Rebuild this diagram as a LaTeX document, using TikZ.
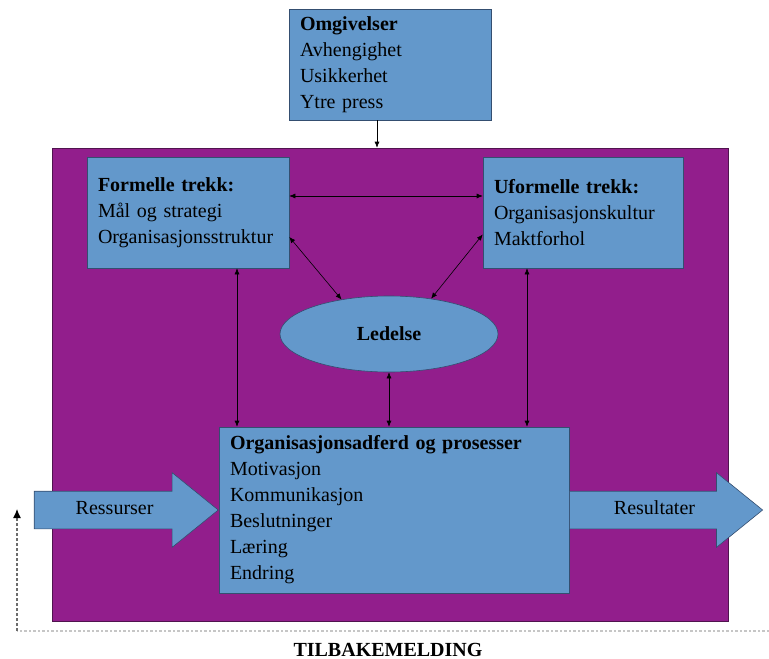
\documentclass[tikz,border=0pt]{standalone}
\usepackage{fontspec}
\setmainfont{Liberation Serif}
\usetikzlibrary{arrows.meta,shapes.geometric,shapes.arrows}
\definecolor{boxblue}{RGB}{99,152,203}
\definecolor{boxline}{RGB}{52,78,112}
\definecolor{orgpurple}{RGB}{146,30,140}
\definecolor{orgline}{RGB}{80,20,78}
\newcommand{\hd}[1]{\textbf{#1}}

\begin{document}
\begin{tikzpicture}[x=1pt,y=-1pt,
  txt/.style={font=\fontsize{20}{26}\selectfont},
  box/.style={txt, draw=boxline, fill=boxblue, line width=0.6pt, align=left, inner xsep=11pt, inner ysep=0pt, minimum height=111pt},
  bigarrow/.style={txt, single arrow, draw=boxline, fill=boxblue, line width=0.6pt, single arrow head extend=18.5pt, single arrow tip angle=78, single arrow head indent=0pt, text height=12pt, text depth=4pt, inner ysep=10.5pt, inner xsep=0pt},
  dbl/.style={{Latex[length=6pt,width=5pt]}-{Latex[length=6pt,width=5pt]}, line width=0.6pt},
  sgl/.style={-{Latex[length=6pt,width=5pt]}, line width=0.6pt},
  fb/.style={gray!45, dash pattern=on 2.5pt off 2pt, line width=1.2pt},
  fbup/.style={-{Latex[length=9pt,width=8pt,black]}, gray!85!black, dash pattern=on 3pt off 2pt, line width=1.2pt}]
\useasboundingbox (0,0) rectangle (769,659);
\node[draw=orgline, fill=orgpurple, line width=0.6pt, minimum width=676pt, minimum height=473pt, inner sep=0pt] (org) at (390,384.5) {};
\node[box, text width=180pt] (omg) at (390,64.5) {\hd{Omgivelser}\\Avhengighet\\Usikkerhet\\Ytre press};
\node[box, text width=180pt] (form) at (188,212.5) {\hd{Formelle trekk:}\\Mål og strategi\\Organisasjonsstruktur};
\node[box, text width=178pt] (uform) at (583,212.5) {\hd{Uformelle trekk:}\\Organisasjonskultur\\Maktforhol};
\node[txt, ellipse, draw=boxline, fill=boxblue, line width=0.6pt, minimum width=218pt, minimum height=76pt, inner sep=0pt] (led) at (389,334) {\hd{Ledelse}};
\node[box, text width=328pt, minimum height=166pt] (bot) at (394,510) {\hd{Organisasjonsadferd og prosesser}\\Motivasjon\\Kommunikasjon\\Beslutninger\\Læring\\Endring};
\node[bigarrow, minimum height=184pt, anchor=tip] (res) at (bot.west) {Ressurser};
\node[bigarrow, minimum height=193pt, anchor=tail] (rslt) at (bot.east) {Resultater};
\draw[sgl] ([xshift=-13pt]omg.south) -- ([xshift=-13pt]omg.south |- org.north);
\draw[dbl] ([yshift=16.5pt]form.east) -- ([yshift=16.5pt]uform.west);
\draw[dbl] ([yshift=-24.5pt]form.east) -- (led.144);
\draw[dbl] ([yshift=-22pt]uform.west) -- (led.40);
\draw[dbl] ([xshift=49pt]form.south) -- ([xshift=49pt]form.south |- bot.north);
\draw[dbl] (led.south) -- (led.south |- bot.north);
\draw[dbl] ([xshift=-56pt]uform.south) -- ([xshift=-56pt]uform.south |- bot.north);
\coordinate (fbR) at (769,631);
\coordinate (fbL) at (17,631);
\coordinate (fbT) at (17,509);
\draw[fb] (fbR) -- (fbL);
\draw[fbup] (fbL) -- (fbT);
\node[font=\fontsize{20}{24}\selectfont\bfseries, anchor=base] (tb) at (388,656) {TILBAKEMELDING};
\end{tikzpicture}
\end{document}
